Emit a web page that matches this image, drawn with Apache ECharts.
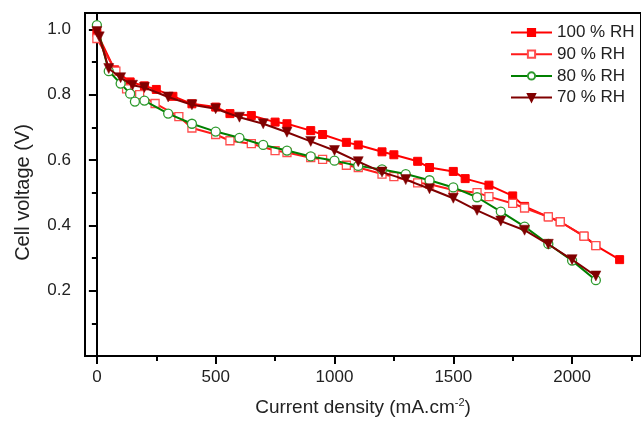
<!DOCTYPE html>
<html><head><meta charset="utf-8">
<script src="https://cdn.jsdelivr.net/npm/echarts@6/dist/echarts.min.js"></script>
<style>html,body{margin:0;padding:0;background:#fff}#c{width:641px;height:422px}</style>
</head><body><div id="c"></div>
<script>
const seriesNames = ['100 % RH', '90 % RH', '80 % RH', '70 % RH'];
const rh100X = [0, 75, 140, 200, 250, 320, 400, 500, 560, 650, 750, 800, 900, 950, 1050, 1100, 1200, 1250, 1350, 1400, 1500, 1550, 1650, 1750, 1800, 1900, 1950, 2050, 2100, 2200];
const rh100Y = [0.990, 0.876, 0.839, 0.827, 0.816, 0.795, 0.772, 0.762, 0.742, 0.736, 0.716, 0.711, 0.690, 0.678, 0.654, 0.646, 0.625, 0.616, 0.596, 0.577, 0.565, 0.543, 0.523, 0.490, 0.458, 0.426, 0.411, 0.367, 0.338, 0.295];
const rh90X = [0, 80, 125, 180, 245, 345, 400, 500, 560, 650, 750, 800, 900, 950, 1050, 1100, 1200, 1250, 1350, 1400, 1500, 1600, 1650, 1750, 1800, 1900, 1950, 2050, 2100];
const rh90Y = [0.972, 0.872, 0.818, 0.800, 0.773, 0.733, 0.698, 0.678, 0.659, 0.650, 0.629, 0.623, 0.607, 0.602, 0.584, 0.577, 0.557, 0.549, 0.530, 0.526, 0.508, 0.500, 0.488, 0.467, 0.453, 0.426, 0.411, 0.367, 0.338];
const rh80X = [0, 50, 100, 140, 160, 200, 300, 400, 500, 600, 700, 800, 900, 1000, 1100, 1200, 1300, 1400, 1500, 1600, 1700, 1800, 1900, 2000, 2100];
const rh80Y = [1.013, 0.872, 0.834, 0.803, 0.779, 0.782, 0.742, 0.711, 0.687, 0.668, 0.646, 0.629, 0.611, 0.598, 0.582, 0.571, 0.557, 0.538, 0.516, 0.486, 0.442, 0.396, 0.343, 0.292, 0.232];
const rh70X = [0, 10, 50, 100, 150, 200, 300, 400, 500, 600, 700, 800, 900, 1000, 1100, 1200, 1300, 1400, 1500, 1600, 1700, 1800, 1900, 2000, 2100];
const rh70Y = [0.993, 0.977, 0.880, 0.852, 0.829, 0.822, 0.793, 0.769, 0.757, 0.731, 0.711, 0.685, 0.657, 0.629, 0.595, 0.563, 0.540, 0.512, 0.483, 0.446, 0.413, 0.385, 0.342, 0.295, 0.245];
const xTicksMajor = [0, 500, 1000, 1500, 2000];
const xTicksMinor = [250, 750, 1250, 1750, 2250];
const yTicksMajor = [0.2, 0.4, 0.6, 0.8, 1.0];
const yTicksMinor = [0.1, 0.3, 0.5, 0.7, 0.9];

const zip = (xs, ys) => xs.map((x, i) => [x, ys[i]]);
const FONT = 'Liberation Sans, Arial, sans-serif';
const X_MIN = -50, X_MAX = 2290, Y_MIN = 0, Y_MAX = 1.05;

const chart = echarts.init(document.getElementById('c'), null, {renderer: 'canvas'});
const axisBase = {
  axisLine: {show: true, lineStyle: {color: '#000', width: 2}},
  splitLine: {show: false}
};
chart.setOption({
  animation: false,
  backgroundColor: '#fff',
  grid: {left: 85, right: 0, top: 13, bottom: 66, show: true, borderColor: '#000', borderWidth: 2, backgroundColor: 'transparent'},
  legend: {
    left: 505, top: 19, orient: 'vertical', itemWidth: 41, itemHeight: 9, itemGap: 4.7,
    textStyle: {fontFamily: FONT, fontSize: 17, color: '#222'},
    data: seriesNames
  },
  xAxis: [
    Object.assign({}, axisBase, {
      type: 'value', min: X_MIN, max: X_MAX, position: 'bottom',
      name: '{a|Current density (mA.cm}{s|-2}{a|)}', nameLocation: 'middle', nameGap: 41,
      nameTextStyle: {rich: {a: {fontFamily: FONT, fontSize: 19, color: '#222'}, s: {fontFamily: FONT, fontSize: 11, color: '#222', padding: [0, 0, 10, 0]}}},
      axisTick: {show: true, inside: false, length: 8, lineStyle: {color: '#000', width: 2}, customValues: xTicksMajor},
      axisLabel: {show: true, margin: 13, fontFamily: FONT, fontSize: 17, color: '#222', customValues: xTicksMajor, formatter: v => String(v)}
    }),
    Object.assign({}, axisBase, {
      type: 'value', min: X_MIN, max: X_MAX, position: 'bottom', offset: 0,
      axisTick: {show: true, inside: false, length: 5, lineStyle: {color: '#000', width: 2}, customValues: xTicksMinor},
      axisLabel: {show: false}
    })
  ],
  yAxis: [
    Object.assign({}, axisBase, {
      type: 'value', min: Y_MIN, max: Y_MAX, position: 'left',
      name: 'Cell voltage (V)', nameLocation: 'middle', nameGap: 52,
      nameTextStyle: {fontFamily: FONT, fontSize: 20, color: '#222', padding: [0, 16, 0, 0]},
      axisTick: {show: true, inside: false, length: 8, lineStyle: {color: '#000', width: 2}, customValues: yTicksMajor},
      axisLabel: {show: true, margin: 14, fontFamily: FONT, fontSize: 17, color: '#222', customValues: yTicksMajor, formatter: v => v.toFixed(1)}
    }),
    Object.assign({}, axisBase, {
      type: 'value', min: Y_MIN, max: Y_MAX, position: 'left', offset: 0,
      axisTick: {show: true, inside: false, length: 5, lineStyle: {color: '#000', width: 2}, customValues: yTicksMinor},
      axisLabel: {show: false}
    })
  ],
  series: [
    {name: seriesNames[0], type: 'line', data: zip(rh100X, rh100Y), symbol: 'rect', symbolSize: 8, showAllSymbol: true,
     lineStyle: {color: '#ff0000', width: 2}, itemStyle: {color: '#ff0000', borderColor: '#ff0000', borderWidth: 1}, emphasis: {disabled: true}, z: 2},
    {name: seriesNames[1], type: 'line', data: zip(rh90X, rh90Y), symbol: 'rect', symbolSize: 8, showAllSymbol: true,
     lineStyle: {color: '#ff1a1a', width: 2}, itemStyle: {color: '#ffffff', borderColor: '#ff4d4d', borderWidth: 1.3}, emphasis: {disabled: true}, z: 3},
    {name: seriesNames[2], type: 'line', data: zip(rh80X, rh80Y), symbol: 'circle', symbolSize: 9, showAllSymbol: true,
     lineStyle: {color: '#008000', width: 2}, itemStyle: {color: '#ffffff', borderColor: '#2e9a2e', borderWidth: 1.3}, emphasis: {disabled: true}, z: 4},
    {name: seriesNames[3], type: 'line', data: zip(rh70X, rh70Y), symbol: 'triangle', symbolRotate: 180, symbolSize: 10, showAllSymbol: true,
     lineStyle: {color: '#800000', width: 2}, itemStyle: {color: '#800000', borderColor: '#800000', borderWidth: 0.5}, emphasis: {disabled: true}, z: 5}
  ]
});
</script>
</body></html>
